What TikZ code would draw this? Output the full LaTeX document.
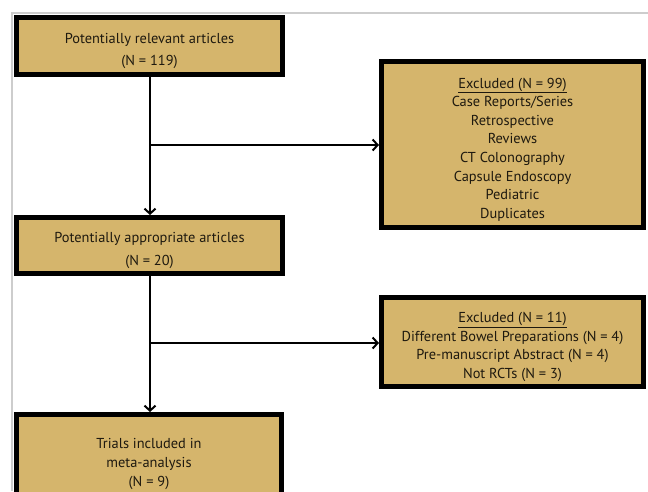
\documentclass[tikz,border=0pt]{standalone}
\usepackage{fontspec}
\setmainfont{PT Sans}
\usetikzlibrary{arrows.meta}
\definecolor{boxfill}{RGB}{213,181,108}
\definecolor{txt}{RGB}{30,25,15}
\definecolor{framegray}{RGB}{205,205,205}
\begin{document}
\begin{tikzpicture}[x=1pt,y=-1pt,
  box/.style={draw=black,fill=boxfill,line width=5pt,rectangle,inner sep=0pt},
  boxtext/.style={inner sep=0pt,align=center,text=txt,yshift=-5pt,
    font=\fontsize{14.4}{18.6}\selectfont},
  conn/.style={line width=2pt,draw=black},
  arr/.style={conn,-{Straight Barb[length=5pt,width=11pt,line width=2pt]}}]
\useasboundingbox (0,0) rectangle (648,491);
\clip (0,0) rectangle (648,491);
\fill[white] (0,0) rectangle (648,491);
\draw[framegray,line width=1.2pt] (12,491) -- (12,13) -- (648,13);
\node[box,minimum width=266pt,minimum height=57pt] (a) at (149.5,46) {};
\node[boxtext] (at) at (a.center) {Potentially relevant articles\\[4pt](N = 119)};
\node[box,minimum width=262pt,minimum height=166pt] (b) at (512.5,144.5) {};
\node[boxtext] (bt) at (b.center)
  {\underline{Excluded (N = 99)}\\Case Reports/Series\\Retrospective\\Reviews\\CT Colonography\\Capsule Endoscopy\\Pediatric\\Duplicates};
\node[box,minimum width=266pt,minimum height=56pt] (c) at (149.5,245.5) {};
\node[boxtext] (ct) at (c.center) {Potentially appropriate articles\\[4pt](N = 20)};
\node[box,minimum width=262pt,minimum height=89pt] (d) at (512.5,342) {};
\node[boxtext] (dt) at (d.center)
  {\underline{Excluded (N = 11)}\\Different Bowel Preparations (N = 4)\\Pre-manuscript Abstract (N = 4)\\Not RCTs (N = 3)};
\node[box,minimum width=265pt,minimum height=89pt] (e) at (149,459) {};
\node[boxtext] (et) at (e.center) {Trials included in\\meta-analysis\\(N = 9)};
\coordinate (j1) at (150,145);
\coordinate (j2) at (150,343);
\draw[arr] (a.south -| j1) -- (c.north -| j1);
\draw[arr] (j1) -- (j1 -| b.west);
\draw[arr] (c.south -| j2) -- (e.north -| j2);
\draw[arr] (j2) -- (j2 -| d.west);
\end{tikzpicture}
\end{document}
